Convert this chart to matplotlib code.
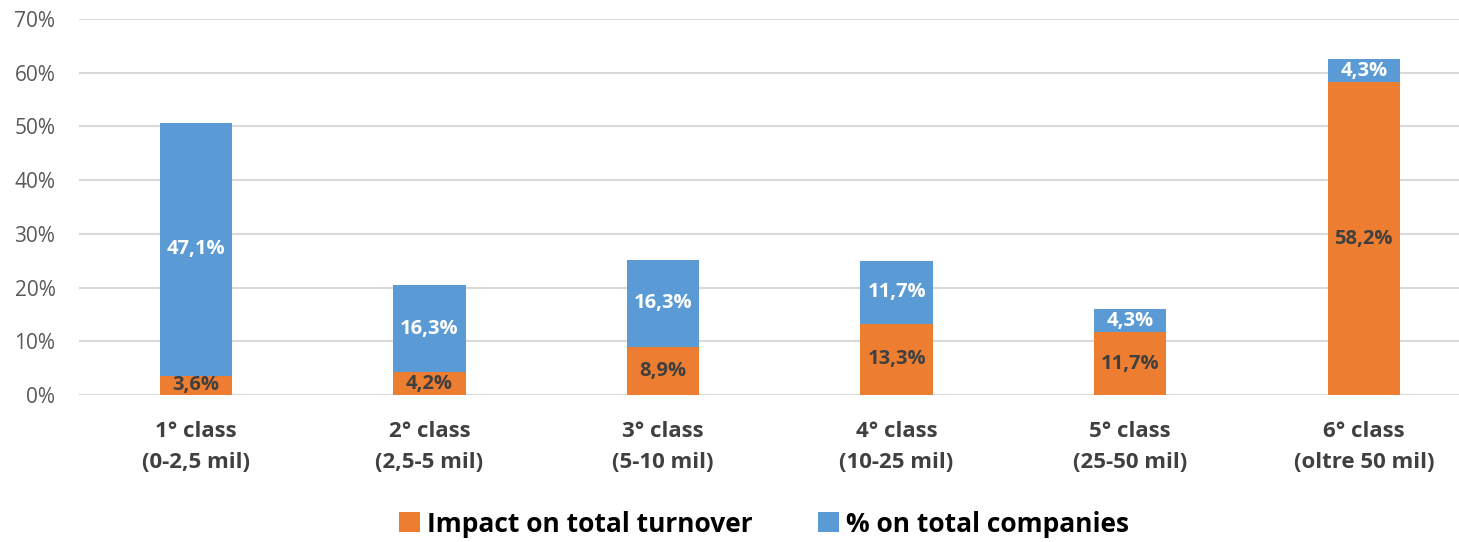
import matplotlib.pyplot as plt
import numpy as np

plt.rcParams['font.family'] = ['Open Sans', 'DejaVu Sans']

categories = ['1° class\n(0-2,5 mil)', '2° class\n(2,5-5 mil)', '3° class\n(5-10 mil)',
              '4° class\n(10-25 mil)', '5° class\n(25-50 mil)', '6° class\n(oltre 50 mil)']
turnover = [3.6, 4.2, 8.9, 13.3, 11.7, 58.2]
companies = [47.1, 16.3, 16.3, 11.7, 4.3, 4.3]

orange = '#ED7D31'
blue = '#5B9BD5'
dark = '#404040'

fig = plt.figure(figsize=(14.59, 5.42), dpi=100)
ax = fig.add_axes([79 / 1459, 147 / 542, 1380 / 1459, 376 / 542])

x = np.arange(len(categories))
t = np.array(turnover) / 100
c = np.array(companies) / 100
w = 0.31
b1 = ax.bar(x, t, w, color=orange, label='Impact on total turnover', zorder=2)
b2 = ax.bar(x, c, w, bottom=t, color=blue, label='% on total companies', zorder=2)

for i in range(len(x)):
    ax.text(x[i], t[i] / 2, f'{turnover[i]:.1f}%'.replace('.', ','), ha='center', va='center',
            fontsize=14.5, fontweight='bold', color=dark, zorder=3)
    ax.text(x[i], t[i] + c[i] / 2, f'{companies[i]:.1f}%'.replace('.', ','), ha='center', va='center',
            fontsize=14.5, fontweight='bold', color='white', zorder=3)

ax.set_xlim(-0.5, -0.5 + 1380 / 233.6)
ax.set_ylim(0, 0.7)
ax.set_yticks(np.arange(0, 0.71, 0.1))
ax.set_yticklabels([f'{v}%' for v in range(0, 71, 10)], fontsize=15, color='#595959')
ax.set_xticks(x)
ax.set_xticklabels(categories, fontsize=16, fontweight='bold', color=dark, linespacing=1.6)
ax.tick_params(axis='both', length=0)
ax.tick_params(axis='y', pad=17)
ax.tick_params(axis='x', pad=19)
ax.yaxis.grid(True, color='#D9D9D9', linewidth=1.5, zorder=0)
for s in ax.spines.values():
    s.set_visible(False)

fig.legend(handles=[b1, b2], loc='center', bbox_to_anchor=(764 / 1459, 18 / 542), ncol=2,
           frameon=False, prop={'size': 19, 'weight': 'bold'}, handlelength=0.8, handleheight=0.8,
           handletextpad=0.25, columnspacing=2.5)

fig.savefig('out.png', dpi=100)
